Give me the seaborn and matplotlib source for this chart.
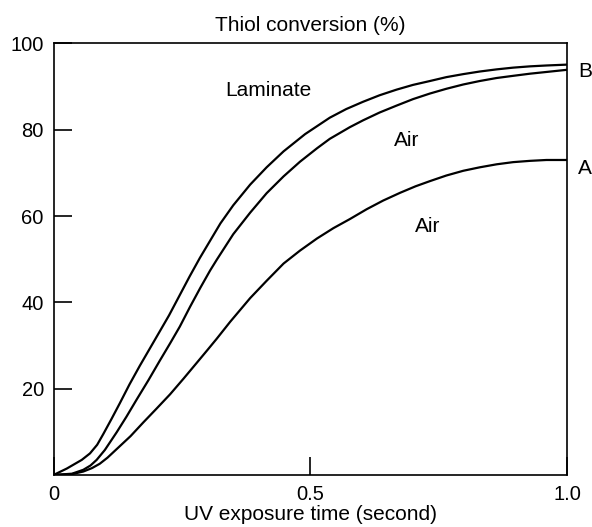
import seaborn as sns
import matplotlib.pyplot as plt
import numpy as np
import pandas as pd

# Laminate curve (top, ends at B)
lam_x = [0, 0.026, 0.055, 0.071, 0.085, 0.097, 0.113, 0.129, 0.148, 0.168, 0.188, 0.207,
         0.225, 0.245, 0.265, 0.285, 0.305, 0.325, 0.350, 0.383, 0.415, 0.448, 0.490,
         0.538, 0.570, 0.603, 0.635, 0.668, 0.700, 0.733, 0.765, 0.798, 0.830, 0.863,
         0.895, 0.928, 0.960, 1.0]
lam_y = [0, 1.5, 3.5, 5.0, 7.0, 9.5, 13.0, 16.6, 21.0, 25.3, 29.4, 33.3,
         37.0, 41.5, 46.0, 50.3, 54.3, 58.3, 62.5, 67.3, 71.3, 75.0, 79.0,
         82.8, 84.8, 86.5, 88.0, 89.3, 90.4, 91.3, 92.2, 92.9, 93.5, 94.0,
         94.4, 94.7, 94.9, 95.1]

# Air curve (middle, ends at B)
airb_x = [0, 0.036, 0.058, 0.072, 0.084, 0.100, 0.123, 0.142, 0.162, 0.185, 0.207,
          0.227, 0.246, 0.266, 0.286, 0.305, 0.318, 0.350, 0.383, 0.415, 0.448, 0.480,
          0.513, 0.538, 0.577, 0.603, 0.635, 0.668, 0.700, 0.733, 0.765, 0.798, 0.830,
          0.863, 0.895, 0.928, 0.960, 1.0]
airb_y = [0, 0.3, 1.2, 2.2, 3.5, 5.8, 9.9, 13.5, 17.5, 22.0, 26.5,
          30.5, 34.4, 39.0, 43.4, 47.4, 49.9, 55.8, 60.8, 65.3, 69.2, 72.6,
          75.7, 77.9, 80.6, 82.2, 84.0, 85.6, 87.1, 88.4, 89.5, 90.5, 91.3,
          92.0, 92.5, 93.0, 93.4, 93.9]

# Air curve (bottom, A)
aira_x = [0, 0.036, 0.058, 0.075, 0.090, 0.105, 0.123, 0.150, 0.175, 0.200, 0.227,
          0.253, 0.279, 0.300, 0.318, 0.344, 0.383, 0.415, 0.448, 0.480, 0.513, 0.545,
          0.577, 0.610, 0.642, 0.675, 0.705, 0.733, 0.765, 0.798, 0.830, 0.863, 0.895,
          0.928, 0.960, 1.0]
aira_y = [0, 0.2, 0.8, 1.6, 2.6, 4.0, 6.0, 9.0, 12.2, 15.3, 18.7,
          22.3, 26.0, 29.0, 31.6, 35.5, 41.0, 45.0, 49.0, 52.0, 54.8, 57.2,
          59.3, 61.6, 63.6, 65.4, 66.9, 68.1, 69.4, 70.5, 71.3, 72.0, 72.5,
          72.8, 73.0, 73.0]

x_ticks = [0, 0.5, 1.0]
x_labels = ["0", "0.5", "1.0"]
y_ticks = [20, 40, 60, 80, 100]

df = pd.concat([
    pd.DataFrame({"t": lam_x, "conv": lam_y, "curve": "lam"}),
    pd.DataFrame({"t": airb_x, "conv": airb_y, "curve": "airb"}),
    pd.DataFrame({"t": aira_x, "conv": aira_y, "curve": "aira"}),
])

sns.set_style("ticks")
plt.rcParams['font.family'] = ['Liberation Sans', 'DejaVu Sans']
plt.rcParams['text.color'] = 'black'
plt.rcParams['axes.labelcolor'] = 'black'

fig = plt.figure(figsize=(5.92, 5.27), dpi=100)
ax = fig.add_axes([0.0904, 0.0987, 0.8674, 0.8188])

sns.lineplot(data=df, x="t", y="conv", units="curve", estimator=None,
             color="black", linewidth=1.6, sort=False, ax=ax)

ax.set_xlim(0, 1.0)
ax.set_ylim(0, 100)
ax.set_xticks(x_ticks)
ax.set_xticklabels(x_labels)
ax.set_yticks(y_ticks)
ax.tick_params(direction="in", length=13, width=1.2, labelsize=14.5,
               colors="black", labelcolor="black")
ax.tick_params(axis="x", pad=7)
ax.tick_params(axis="y", pad=7)
for s in ax.spines.values():
    s.set_visible(True)
    s.set_linewidth(1.2)
    s.set_color("black")

ax.set_xlabel("UV exposure time (second)", fontsize=15, labelpad=1, color="black")
ax.set_ylabel("")
ax.set_title("Thiol conversion (%)", fontsize=15, pad=9, color="black")

ax.text(0.418, 89, "Laminate", fontsize=15, ha="center", va="center", color="black")
ax.text(0.688, 77.4, "Air", fontsize=15, ha="center", va="center", color="black")
ax.text(0.729, 57.7, "Air", fontsize=15, ha="center", va="center", color="black")
ax.text(1.021, 93.4, "B", fontsize=15, ha="left", va="center", color="black", clip_on=False)
ax.text(1.021, 71.1, "A", fontsize=15, ha="left", va="center", color="black", clip_on=False)

plt.savefig("out.png", dpi=100)
